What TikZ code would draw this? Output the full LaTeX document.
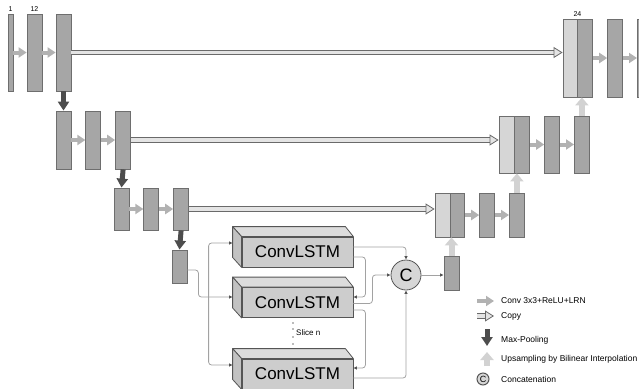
\documentclass[tikz,border=0pt]{standalone}
\usepackage{fontspec}
\setmainfont{Liberation Sans}
\usetikzlibrary{arrows.meta, positioning, calc}

\definecolor{barfill}{HTML}{A6A6A6}
\definecolor{barline}{HTML}{6E6E6E}
\definecolor{lightfill}{HTML}{D6D6D6}
\definecolor{convgray}{HTML}{B2B2B2}
\definecolor{pooldark}{HTML}{4D4D4D}
\definecolor{upgray}{HTML}{D2D2D2}
\definecolor{copyline}{HTML}{6A6A6A}
\definecolor{copyfill}{HTML}{E4E4E4}
\definecolor{linkgray}{HTML}{A2A2A2}
\definecolor{lstmfront}{HTML}{CDCDCD}
\definecolor{lstmtop}{HTML}{DCDCDC}
\definecolor{lstmside}{HTML}{C2C2C2}
\definecolor{lstmline}{HTML}{555555}

\begin{document}
\begin{tikzpicture}[
  x=1pt, y=-1pt,
  bar/.style={draw=barline, fill=barfill, line width=0.8pt, inner sep=0pt, minimum width=15pt},
  lightbar/.style={bar, fill=lightfill},
  numlabel/.style={font=\fontsize{7}{8}\selectfont, inner sep=1.5pt},
  convarrow/.style={draw=convgray, line width=4pt, -{Triangle[length=8pt, width=10pt]}},
  copyarrow/.style={draw=copyline, double=copyfill, line width=0.8pt, double distance=3.6pt,
    -{Triangle[length=9pt, width=11pt, fill=copyfill, line width=0.8pt]}},
  poolarrow/.style={draw=pooldark, line width=5pt, -{Triangle[length=9pt, width=11pt]}},
  uparrow/.style={draw=upgray, line width=6pt, -{Triangle[length=8pt, width=13pt]}},
  link/.style={draw=linkgray, line width=0.8pt, rounded corners=3pt,
    -{Latex[length=3.5pt, width=3.5pt, color=lstmline]}},
  lstm/.style={draw=lstmline, fill=lstmfront, line width=0.8pt, minimum width=111pt,
    minimum height=30pt, inner sep=0pt, font=\fontsize{17}{20}\selectfont},
  cat/.style={circle, draw=lstmline, fill=lightfill, line width=0.8pt, minimum size=30pt,
    inner sep=0pt, font=\fontsize{18}{20}\selectfont},
  keytext/.style={anchor=west, font=\fontsize{8.5}{10}\selectfont, inner sep=0pt}
]
\useasboundingbox (0,0) rectangle (639,388);

% encoder
\node[bar, minimum width=5pt, minimum height=77pt, label={[numlabel]above:1}] (e1a) at (10.5,52.5) {};
\node[bar, minimum height=77pt, label={[numlabel]above:12}] (e1b) at (34.5,52.5) {};
\node[bar, minimum height=77pt] (e1c) at (63.5,52.5) {};

\node[bar, minimum height=58pt] (e2a) at (63.5,140) {};
\node[bar, minimum height=58pt, right=14pt of e2a] (e2b) {};
\node[bar, minimum height=58pt, right=14pt of e2b] (e2c) {};

\node[bar, minimum height=42pt] (e3a) at (121.5,209) {};
\node[bar, minimum height=42pt, right=14pt of e3a] (e3b) {};
\node[bar, minimum height=42pt, right=14pt of e3b] (e3c) {};

\node[bar, minimum height=33pt] (e4) at (179.5,266.5) {};

% decoder
\node[lightbar, minimum width=14pt, minimum height=78pt] (d1a) at (570,58) {};
\node[bar, minimum height=78pt, right=0pt of d1a] (d1b) {};
\node[bar, minimum height=78pt, right=14pt of d1b] (d1c) {};
\node[bar, minimum height=78pt, right=14pt of d1c] (d1d) {};
\node[numlabel, anchor=south] (n24) at (d1a.north east) {24};

\node[lightbar, minimum height=57pt] (d2a) at (506.5,144.5) {};
\node[bar, minimum height=57pt, right=0pt of d2a] (d2b) {};
\node[bar, minimum height=57pt, right=14pt of d2b] (d2c) {};
\node[bar, minimum height=57pt, right=14pt of d2c] (d2d) {};

\node[lightbar, minimum height=44pt] (d3a) at (442.5,215) {};
\node[bar, minimum width=14pt, minimum height=44pt, right=0pt of d3a] (d3b) {};
\node[bar, minimum height=44pt, right=14pt of d3b] (d3c) {};
\node[bar, minimum height=44pt, right=14pt of d3c] (d3d) {};

\node[bar, minimum height=34pt] (post) at (451.5,273) {};

% ConvLSTM slices
\node[lstm] (m1) at (297.5,252) {ConvLSTM};
\node[lstm] (m2) at (297.5,302.5) {ConvLSTM};
\node[lstm] (m3) at (297.5,374) {ConvLSTM};
\foreach \m in {m1,m2,m3} {
  \filldraw[draw=lstmline, fill=lstmtop, line width=0.8pt, line join=round]
    (\m.north west) -- ++(-9,-10) -- ($(\m.north east)+(-8,-10)$) -- (\m.north east) -- cycle;
  \filldraw[draw=lstmline, fill=lstmside, line width=0.8pt, line join=round]
    (\m.north west) -- ++(-9,-10) -- ($(\m.south west)+(-9,-10)$) -- (\m.south west) -- cycle;
}
\node[cat] (cat) at (406,275) {C};

\foreach \d in {323,329,337,344}
  \fill[lstmline!80] (293,\d) circle (0.9pt);
\node[anchor=west, font=\fontsize{8}{9}\selectfont, inner sep=0pt] (slice) at (296,333) {Slice n};

% conv arrows
\foreach \a/\b in {e1a/e1b, e1b/e1c, e2a/e2b, e2b/e2c, e3a/e3b, e3b/e3c,
                   d1b/d1c, d1c/d1d, d2b/d2c, d2c/d2d, d3b/d3c, d3c/d3d}
  \draw[convarrow] (\a.east) -- (\a.east -| \b.west);

% copy arrows
\draw[copyarrow] (e1c.east) -- (e1c.east -| d1a.west);
\draw[copyarrow] (e2c.east) -- (e2c.east -| d2a.west);
\draw[copyarrow] (e3c.east) -- (e3c.east -| d3a.west);

% max-pooling
\draw[poolarrow] (e1c.south) -- (e2a.north);
\draw[poolarrow] (e2c.south) -- (e3a.north);
\draw[poolarrow] (e3c.south) -- (e4.north);

% upsampling
\draw[uparrow] (d2d.north) -- (d2d.north |- d1a.south);
\draw[uparrow] (d3d.north) -- (d3d.north |- d2a.south);
\draw[uparrow] (post.north) -- (post.north |- d3a.south);

% ConvLSTM links
\coordinate (in1) at ($(m1.west)+(-9,-9)$);
\coordinate (in2) at ($(m2.west)+(-9,-5.5)$);
\coordinate (in3) at ($(m3.west)+(-9,-9)$);
\coordinate (split) at ($(in2)+(-24,0)$);
\draw[link] ($(e4.east)+(0,3.5)$) -- ++(11,0) |- (in2);
\draw[link] (split) |- (in1);
\draw[link] (split) |- (in3);
\draw[link] ($(m1.east)+(0,-5)$) -| (cat.north);
\draw[link] ($(m1.east)+(0,5)$) -- ++(12,0) |- ($(m2.east)+(0,-5.5)$);
\draw[link] ($(m2.east)+(0,1)$) -- ++(19,0) |- (cat.west);
\draw[link] ($(m2.east)+(0,7.5)$) -- ++(12,0) |- ($(m3.east)+(0,-6)$);
\draw[link] ($(m3.east)+(0,4)$) -| (cat.south);
\draw[link] (cat.east) -- (cat.east -| post.west);

% legend
\coordinate (k1a) at (477,301); \coordinate (k1b) at (494,301);
\coordinate (k2a) at (477,316); \coordinate (k2b) at (494,316);
\coordinate (k3a) at (487,329); \coordinate (k3b) at (487,346);
\coordinate (k4a) at (487,366); \coordinate (k4b) at (487,352);
\draw[convarrow] (k1a) -- (k1b);
\draw[copyarrow] (k2a) -- (k2b);
\draw[poolarrow] (k3a) -- (k3b);
\draw[uparrow] (k4a) -- (k4b);
\node[cat, minimum size=12pt, line width=1pt, font=\fontsize{9}{10}\selectfont] (k5) at (483,379) {C};
\node[keytext] (t1) at (501,301) {Conv 3x3+ReLU+LRN};
\node[keytext] (t2) at (501,316) {Copy};
\node[keytext] (t3) at (501,340) {Max-Pooling};
\node[keytext] (t4) at (501,359) {Upsampling by Bilinear Interpolation};
\node[keytext] (t5) at (501,379) {Concatenation};
\end{tikzpicture}
\end{document}
